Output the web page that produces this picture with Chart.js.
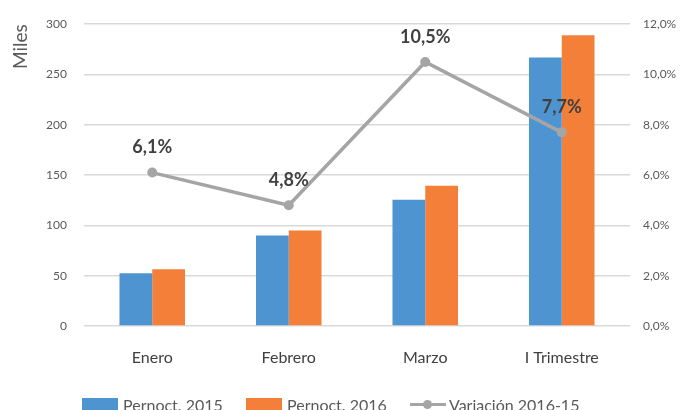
<!DOCTYPE html>
<html>
<head>
<meta charset="utf-8">
<script src="https://cdn.jsdelivr.net/npm/chart.js@4"></script>
<style>
  html, body { margin: 0; padding: 0; background: #fff; overflow: hidden; }
  #wrap { position: relative; width: 680px; height: 410px; }
  #legend { position: absolute; left: 0; top: 395px; width: 680px; height: 20px;
    font-family: Lato, "Open Sans", sans-serif; font-size: 16px; color: #595959; }
  #legend span { position: absolute; top: 0; white-space: nowrap; }
  .box { width: 36px; height: 12px; top: 3px !important; }
</style>
</head>
<body>
<div id="wrap">
  <canvas id="chart" width="680" height="410"></canvas>
  <div id="legend"></div>
</div>
<script>
// Data
const categories = ['Enero', 'Febrero', 'Marzo', 'I Trimestre'];
const pernoct2015 = [52.5, 90, 125.5, 267];
const pernoct2016 = [56.5, 95, 139.5, 289];
const variacion = [6.1, 4.8, 10.5, 7.7];
const seriesNames = ['Pernoct. 2015', 'Pernoct. 2016', 'Variación 2016-15'];

const blue = '#4E94D1';
const orange = '#F37F38';
const grey = '#A5A5A5';

const fmtPct = v => v.toFixed(1).replace('.', ',') + '%';

// labels above the line points
const lineLabels = {
    id: 'lineLabels',
    afterDatasetsDraw(chart) {
        const ctx = chart.ctx;
        const meta = chart.getDatasetMeta(0);
        ctx.save();
        ctx.font = 'bold 18px Lato, "Open Sans", sans-serif';
        ctx.fillStyle = '#404040';
        ctx.textAlign = 'center';
        ctx.textBaseline = 'middle';
        meta.data.forEach((pt, i) => {
            ctx.fillText(fmtPct(variacion[i]), pt.x, pt.y - 25);
        });
        ctx.restore();
    }
};

const ctx = document.getElementById('chart').getContext('2d');
const chart = new Chart(ctx, {
    data: {
        labels: categories,
        datasets: [
            {
                type: 'line',
                label: seriesNames[2],
                data: variacion,
                yAxisID: 'y2',
                borderColor: grey,
                backgroundColor: grey,
                borderWidth: 3.5,
                pointRadius: 5,
                pointBackgroundColor: grey,
                pointBorderWidth: 0,
                tension: 0,
                order: 0
            },
            {
                type: 'bar',
                label: seriesNames[0],
                data: pernoct2015,
                yAxisID: 'y',
                backgroundColor: blue,
                categoryPercentage: 0.48,
                barPercentage: 1,
                order: 1
            },
            {
                type: 'bar',
                label: seriesNames[1],
                data: pernoct2016,
                yAxisID: 'y',
                backgroundColor: orange,
                categoryPercentage: 0.48,
                barPercentage: 1,
                order: 1
            }
        ]
    },
    options: {
        responsive: false,
        animation: false,
        layout: { padding: { top: 23, left: 0, right: 0, bottom: 0 } },
        plugins: {
            legend: { display: false },
            tooltip: { enabled: false }
        },
        scales: {
            x: {
                grid: { display: false, drawTicks: false },
                border: { display: false },
                ticks: {
                    color: '#404040',
                    font: { family: 'Lato, "Open Sans", sans-serif', size: 16 },
                    padding: 22
                },
                afterFit: s => { s.height = 84; }
            },
            y: {
                position: 'left',
                min: 0, max: 300,
                ticks: {
                    stepSize: 50,
                    color: '#595959',
                    font: { family: 'Lato, "Open Sans", sans-serif', size: 12 },
                    padding: 17
                },
                grid: { color: '#D9D9D9', lineWidth: 1.5, drawTicks: false },
                border: { display: false },
                title: {
                    display: true,
                    text: 'Miles',
                    align: 'end',
                    color: '#595959',
                    font: { family: 'Lato, "Open Sans", sans-serif', size: 19 },
                    padding: { top: 9, bottom: 0 }
                },
                afterFit: s => { s.width = 84; }
            },
            y2: {
                position: 'right',
                min: 0, max: 12,
                ticks: {
                    stepSize: 2,
                    color: '#595959',
                    font: { family: 'Lato, "Open Sans", sans-serif', size: 12 },
                    padding: 13,
                    callback: v => fmtPct(v)
                },
                grid: { display: false, drawTicks: false },
                border: { display: false },
                afterFit: s => { s.width = 50; }
            }
        }
    },
    plugins: [lineLabels]
});

// legend built from the same series names and colours
const legend = document.getElementById('legend');
legend.innerHTML =
    '<span class="box" style="left:82px;background:' + blue + '"></span>' +
    '<span style="left:123px">' + seriesNames[0] + '</span>' +
    '<span class="box" style="left:246px;background:' + orange + '"></span>' +
    '<span style="left:287px">' + seriesNames[1] + '</span>' +
    '<span style="left:410px;top:8px;width:36px;height:3px;background:' + grey + '"></span>' +
    '<span style="left:423px;top:5px;width:9px;height:9px;border-radius:50%;background:' + grey + '"></span>' +
    '<span style="left:449px">' + seriesNames[2] + '</span>';
</script>
</body>
</html>
